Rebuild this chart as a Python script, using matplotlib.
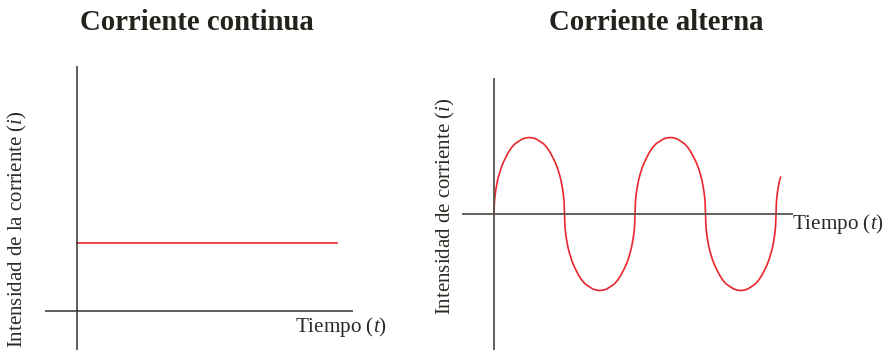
import matplotlib
matplotlib.use('Agg')
import matplotlib.pyplot as plt

plt.rcParams['font.family'] = ['Liberation Serif', 'DejaVu Serif']
plt.rcParams['mathtext.fontset'] = 'custom'
plt.rcParams['mathtext.rm'] = 'Liberation Serif'
plt.rcParams['mathtext.it'] = 'Liberation Serif:italic'

W, H = 893, 350

# corriente continua: constant current
dc_t = [0, 10]
dc_i = [3, 3]

# corriente alterna: one half wave (t in half periods, i in amplitudes)
half_t = [0, 0.005, 0.01, 0.02, 0.03, 0.05, 0.07, 0.1, 0.125, 0.15, 0.2, 0.25, 0.3, 0.35, 0.4, 0.45, 0.5,
          0.55, 0.6, 0.65, 0.7, 0.75, 0.8, 0.85, 0.875, 0.9, 0.93, 0.95, 0.97, 0.98, 0.99, 0.995, 1]
half_i = [0, 0.14, 0.2, 0.28, 0.34, 0.44, 0.51, 0.6, 0.66, 0.71, 0.8, 0.87, 0.92, 0.95, 0.98, 0.995, 1,
          0.995, 0.98, 0.95, 0.92, 0.87, 0.8, 0.71, 0.66, 0.6, 0.51, 0.44, 0.34, 0.28, 0.2, 0.14, 0]
n_half = 4
# short rising bit at the right end
tail_t = [0, 0.005, 0.01, 0.02, 0.03, 0.05, 0.065]
tail_i = [0, 0.14, 0.2, 0.28, 0.34, 0.44, 0.48]

ac_t, ac_i = [], []
for k in range(n_half):
    sign = 1 if k % 2 == 0 else -1
    ac_t += [k + t for t in half_t]
    ac_i += [sign * v for v in half_i]
ac_t += [n_half + t for t in tail_t]
ac_i += tail_i

red = '#e8262c'
axcol = '#333333'
txtcol = '#2b2b25'


def px_rect(x0, y0, x1, y1):
    return [x0 / W, 1 - y1 / H, (x1 - x0) / W, (y1 - y0) / H]


fig = plt.figure(figsize=(W / 100, H / 100), dpi=100)

# left chart
ax1 = fig.add_axes(px_rect(45, 66, 353, 350))
ax1.plot(dc_t, dc_i, color=red, lw=1.2)
ax1.axhline(0, color=axcol, lw=1.1)
ax1.axvline(0, color=axcol, lw=1.1)
ax1.set_xlim(-1.23, 10.615)
ax1.set_ylim(-1.728, 10.855)
ax1.axis('off')

# right chart
ax2 = fig.add_axes(px_rect(462, 78, 793, 350))
ax2.plot(ac_t, ac_i, color=red, lw=1.2)
ax2.axhline(0, color='#55554d', lw=1.3)
ax2.axvline(0, color='#55554d', lw=1.3)
ax2.set_xlim(-0.454, 4.241)
ax2.set_ylim(-1.778, 1.778)
ax2.axis('off')

fig.text(197 / W, 1 - 23 / H, 'Corriente continua', fontsize=20.7, fontweight='bold',
         color='#23231d', ha='center', va='center')
fig.text(656 / W, 1 - 23 / H, 'Corriente alterna', fontsize=20.7, fontweight='bold',
         color='#23231d', ha='center', va='center')

fig.text(17 / W, 1 - 229 / H, r'Intensidad de la corriente ($i$)', fontsize=15,
         color=txtcol, rotation=90, ha='center', va='center')
fig.text(445 / W, 1 - 206 / H, r'Intensidad de corriente ($i$)', fontsize=15,
         color=txtcol, rotation=90, ha='center', va='center')

fig.text(387 / W, 1 - 327 / H, r'Tiempo ($t$)', fontsize=15.2, color=txtcol,
         ha='right', va='center')
fig.text(884 / W, 1 - 224 / H, r'Tiempo ($t$)', fontsize=15.2, color=txtcol,
         ha='right', va='center')

fig.savefig('out.png', dpi=100)
